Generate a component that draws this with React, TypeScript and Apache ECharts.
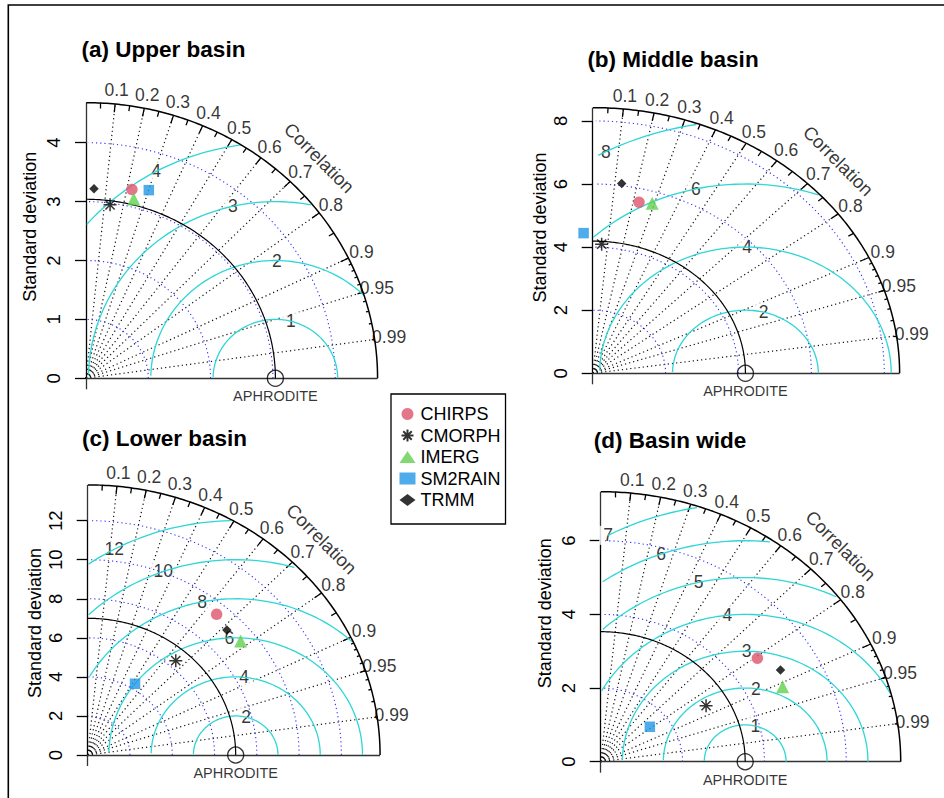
import React, { useEffect, useRef } from "react";
import * as echarts from "echarts";

// ---------------- data ----------------
const MODELS = ["CHIRPS", "CMORPH", "IMERG", "SM2RAIN", "TRMM"];

const UPPER_SD = [3.29, 2.97, 3.14, 3.35, 3.22];
const UPPER_COR = [0.224, 0.13, 0.244, 0.301, 0.04];
const MIDDLE_SD = [5.57, 4.1, 5.63, 4.45, 6.07];
const MIDDLE_COR = [0.228, 0.06, 0.29, -0.056, 0.131];
const LOWER_SD = [9.44, 6.38, 9.3, 4.28, 9.18];
const LOWER_COR = [0.646, 0.653, 0.778, 0.523, 0.717];
const WIDE_SD = [4.75, 2.99, 4.89, 1.53, 5.05];
const WIDE_COR = [0.806, 0.861, 0.909, 0.785, 0.87];

const PANEL_TITLES = ["(a) Upper basin", "(b) Middle basin", "(c) Lower basin", "(d) Basin wide"];
const REFERENCE_NAME = "APHRODITE";
const REF_SD = [3.04, 4.19, 7.0, 3.53];
const MAX_SD = [4.68, 8.42, 13.83, 7.33];
const SD_TICK_STEP = [1, 2, 2, 2];
const SD_TICK_LAST = [4, 8, 12, 6];
const RMS_LEVELS = [
  [1, 2, 3, 4],
  [2, 4, 6, 8],
  [2, 4, 6, 8, 10, 12],
  [1, 2, 3, 4, 5, 6, 7],
];
const CORR_TICKS = [0.1, 0.2, 0.3, 0.4, 0.5, 0.6, 0.7, 0.8, 0.9, 0.95, 0.99];
const CORR_BIG_TICKS = [0.1, 0.2, 0.3, 0.4, 0.5, 0.6, 0.7, 0.8, 0.9];
const CORR_MED_TICKS = [0.05, 0.15, 0.25, 0.35, 0.45, 0.55, 0.65, 0.75, 0.85, 0.95];
const CORR_SMALL_TICKS = [0.91, 0.92, 0.93, 0.94, 0.95, 0.96, 0.97, 0.98, 0.99];

const PANEL_SD = [UPPER_SD, MIDDLE_SD, LOWER_SD, WIDE_SD];
const PANEL_COR = [UPPER_COR, MIDDLE_COR, LOWER_COR, WIDE_COR];

// ---------------- layout / style ----------------
const FONT = "'Liberation Sans', Arial, Helvetica, sans-serif";
const LAYOUT = [
  { ox: 86, oy: 378.3, sx: 62.3, sy: 58.9, title: [163.5, 49], ylab: [30, 226.7] },
  { ox: 592.7, oy: 373.3, sx: 36.45, sy: 31.55, title: [673, 59.3], ylab: [540, 227.5] },
  { ox: 87.7, oy: 755, sx: 21.14, sy: 19.53, title: [164.5, 438.3], ylab: [35, 623] },
  { ox: 600.7, oy: 761.7, sx: 40.93, sy: 36.83, title: [670, 440.5], ylab: [545, 613.3] },
];

const ASTERISK = "path://M0,5L10,5M5,0L5,10M1.46,1.46L8.54,8.54M1.46,8.54L8.54,1.46";
const MODEL_STYLE: Record<string, any> = {
  CHIRPS: { symbol: "circle", size: 11.5, itemStyle: { color: "#DF536B" } },
  CMORPH: { symbol: ASTERISK, size: 13, itemStyle: { color: "none", borderColor: "#000", borderWidth: 1.5 } },
  IMERG: { symbol: "triangle", size: 13, itemStyle: { color: "#61D04F" } },
  SM2RAIN: { symbol: "rect", size: 10.5, itemStyle: { color: "#2297E6" } },
  TRMM: { symbol: "diamond", size: 9.5, itemStyle: { color: "#000" } },
};
const CYAN = "#2ED6D6";
const BLUE = "#2f2fff";

// ---------------- helpers ----------------
const polar = (sd: number, r: number) => [sd * r, sd * Math.sqrt(1 - r * r)];

function arcPoints(radius: number, cx: number, step: number, end: number) {
  const pts: number[][] = [];
  for (let k = 0; k * step <= end + 1e-9; k++) {
    const t = k * step;
    pts.push([cx + radius * Math.cos(t), radius * Math.sin(t)]);
  }
  return pts;
}

// plotrix-style RMS (gamma) curves
function gammaCurve(g: number, R: number, maxsd: number) {
  const xs: number[] = [];
  const ys: number[] = [];
  for (let k = 0; k < 105; k++) {
    const t = k * 0.03;
    xs.push(Math.cos(t) * g + R);
    ys.push(Math.sin(t) * g);
  }
  const firstNeg = xs.findIndex((x) => x < 0);
  const end = firstNeg >= 0 ? firstNeg - 1 : 104;
  let lastOut = -1;
  for (let k = 0; k < 105; k++) if (xs[k] * xs[k] + ys[k] * ys[k] > maxsd * maxsd) lastOut = k;
  const start = lastOut + 1;
  const pts: number[][] = [];
  for (let k = start; k <= end; k++) pts.push([xs[k], ys[k]]);
  return { pts, xs, ys };
}

function buildOption() {
  const grid: any[] = [];
  const xAxis: any[] = [];
  const yAxis: any[] = [];
  const series: any[] = [];
  const graphic: any[] = [];

  graphic.push({
    type: "polyline",
    silent: true,
    shape: { points: [[8.3, 798], [8.3, 5], [944, 5]] },
    style: { stroke: "#000", lineWidth: 1.6, fill: null },
  });

  for (let i = 0; i < 4; i++) {
    const L = LAYOUT[i];
    const maxsd = MAX_SD[i];
    const R = REF_SD[i];
    const last = SD_TICK_LAST[i];
    const step = SD_TICK_STEP[i];
    const xMax = Math.ceil(maxsd * 1.2);

    grid.push({
      left: L.ox,
      top: L.oy - last * L.sy,
      width: xMax * L.sx,
      height: last * L.sy,
      containLabel: false,
      outerBoundsMode: "none",
      show: false,
    });
    xAxis.push({ gridIndex: i, type: "value", min: 0, max: xMax, show: false, splitLine: { show: false } });
    yAxis.push({
      gridIndex: i,
      type: "value",
      min: 0,
      max: last,
      interval: step,
      axisLine: { show: true, onZero: false, lineStyle: { color: "#000", width: 1.3 } },
      axisTick: { show: true, length: 11, lineStyle: { color: "#000", width: 1.3 } },
      axisLabel: { show: true, rotate: 90, margin: 23, fontSize: 18.5, color: "#000", fontFamily: FONT },
      splitLine: { show: false },
    });

    const ax = { xAxisIndex: i, yAxisIndex: i, silent: true };
    const line = (pts: number[][], color: string, width: number, type: any = "solid") => ({
      type: "line",
      ...ax,
      data: pts,
      symbol: "none",
      clip: false,
      smooth: false,
      lineStyle: { color, width, type },
      emphasis: { disabled: true },
    });
    const segs = (list: number[][][], color: string, width: number, type: any = "solid") => ({
      type: "lines",
      coordinateSystem: "cartesian2d",
      ...ax,
      clip: false,
      data: list.map((c) => ({ coords: c })),
      lineStyle: { color, width, type, opacity: 1, curveness: 0 },
    });
    const textSeries = (items: { value: number[]; name: string }[], label: any) => ({
      type: "scatter",
      ...ax,
      clip: false,
      symbolSize: 1,
      itemStyle: { color: "rgba(0,0,0,0)" },
      data: items,
      label: {
        show: true,
        position: "inside",
        formatter: "{b}",
        color: "#000",
        fontFamily: FONT,
        textBorderWidth: 0,
        ...label,
      },
      emphasis: { disabled: true },
    });

    // correlation radial lines
    series.push(segs(CORR_TICKS.map((r) => [[0, 0], polar(maxsd, r)]), "#111", 1.2, [1.2, 3]));

    // axes extensions
    series.push(
      segs(
        [
          [[0, 0], [maxsd, 0]],
          [[0, last], [0, maxsd]],
          [[0, 0], [0, -11 / L.sy]],
        ],
        "#333",
        1.3
      )
    );

    // SD arcs (blue dotted)
    for (let v = step; v <= last; v += step) {
      series.push(line(arcPoints(v, 0, 0.03, Math.PI / 2), BLUE, 1.1, [1.2, 3]));
    }

    // RMS arcs and labels
    const levels = RMS_LEVELS[i];
    const gLabels: { value: number[]; name: string }[] = [];
    levels.forEach((g, gi) => {
      const { pts, xs, ys } = gammaCurve(g, R, maxsd);
      series.push(line(pts, CYAN, 1.3));
      const lp = levels.length === 1 ? 45 : 45 + (25 * gi) / (levels.length - 1);
      const idx = Math.trunc(lp + 1e-9) - 1;
      if (xs[idx] > 0) gLabels.push({ value: [xs[idx], ys[idx]], name: String(g) });
    });
    series.push(textSeries(gLabels, { fontSize: 17.5, backgroundColor: "#fff", padding: [1, 4, 0, 4] }));

    // outer arc and ticks
    series.push(line(arcPoints(maxsd, 0, 0.01, Math.PI / 2), "#000", 1.5));
    const tickSegs = (list: number[], frac: number) =>
      list.map((r) => [polar(maxsd, r), polar(maxsd * frac, r)]);
    series.push(
      segs(
        [...tickSegs(CORR_BIG_TICKS, 0.97), ...tickSegs(CORR_MED_TICKS, 0.98), ...tickSegs(CORR_SMALL_TICKS, 0.99)],
        "#000",
        1.3
      )
    );

    // reference SD arc
    series.push(line(arcPoints(R, 0, 0.01, Math.PI / 2), "#000", 1.2));

    // reference point
    series.push({
      type: "scatter",
      name: REFERENCE_NAME,
      ...ax,
      clip: false,
      symbol: "circle",
      symbolSize: 16,
      itemStyle: { color: "rgba(0,0,0,0)", borderColor: "#000", borderWidth: 1.3 },
      data: [{ value: [R, 0], name: REFERENCE_NAME }],
      label: {
        show: true,
        position: "bottom",
        distance: 2,
        formatter: "{b}",
        fontSize: 14.5,
        color: "#000",
        fontFamily: FONT,
      },
      emphasis: { disabled: true },
    });

    // correlation labels
    series.push(
      textSeries(
        CORR_TICKS.map((r) => ({ value: polar(maxsd * 1.05, r), name: String(r) })),
        { fontSize: 17.5 }
      )
    );
    series.push(
      textSeries([{ value: [maxsd * 0.8, maxsd * 0.8], name: "Correlation" }], { fontSize: 18.5, rotate: -45 })
    );

    // model points
    MODELS.forEach((m, mi) => {
      const st = MODEL_STYLE[m];
      series.push({
        type: "scatter",
        name: m,
        ...ax,
        clip: false,
        symbol: st.symbol,
        symbolSize: st.size,
        itemStyle: st.itemStyle,
        data: [polar(PANEL_SD[i][mi], PANEL_COR[i][mi])],
        emphasis: { disabled: true },
        z: 3,
      });
    });

    // titles & y labels
    graphic.push({
      type: "text",
      silent: true,
      x: L.title[0],
      y: L.title[1],
      style: {
        text: PANEL_TITLES[i],
        fontSize: 22.5,
        fontWeight: "bold",
        fontFamily: FONT,
        fill: "#000",
        align: "center",
        verticalAlign: "middle",
      },
    });
    graphic.push({
      type: "text",
      silent: true,
      x: L.ylab[0],
      y: L.ylab[1],
      rotation: Math.PI / 2,
      style: {
        text: "Standard deviation",
        fontSize: 18,
        fontFamily: FONT,
        fill: "#000",
        align: "center",
        verticalAlign: "middle",
      },
    });
  }

  return {
    animation: false,
    backgroundColor: "#fff",
    textStyle: { fontFamily: FONT },
    grid,
    xAxis,
    yAxis,
    series,
    graphic,
    legend: {
      data: MODELS,
      orient: "vertical",
      left: 391,
      top: 394,
      itemWidth: 16,
      itemHeight: 12,
      itemGap: 3.5,
      padding: [11, 5, 15, 8],
      borderColor: "#000",
      borderWidth: 1.3,
      borderRadius: 0,
      backgroundColor: "#fff",
      selectedMode: false,
      textStyle: { fontSize: 18, color: "#000", fontFamily: FONT },
    },
  };
}

export default function App() {
  const ref = useRef<HTMLDivElement>(null);
  useEffect(() => {
    const chart = echarts.init(ref.current!, null, { renderer: "svg" });
    chart.setOption(buildOption() as any);
    return () => chart.dispose();
  }, []);
  return (
    <div
      ref={ref}
      style={{ position: "absolute", left: 0, top: 0, width: 944, height: 798, background: "#fff" }}
    />
  );
}
